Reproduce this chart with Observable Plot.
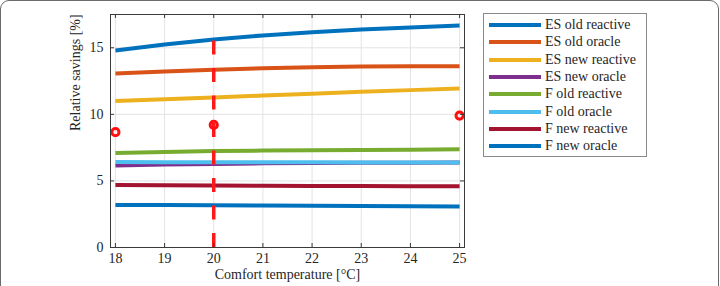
<!DOCTYPE html>
<html>
<head>
<meta charset="utf-8">
<script src="https://cdn.jsdelivr.net/npm/d3@7"></script>
<script src="https://cdn.jsdelivr.net/npm/@observablehq/plot@0.6"></script>
<style>
  html, body { margin: 0; padding: 0; background: #fff; }
  #wrap { position: relative; width: 720px; height: 286px; overflow: hidden; font-family: "Liberation Serif", serif; }
  #frame { position: absolute; left: 0; top: 0; width: 719px; height: 300px; border: 1.5px solid #6a6a6a; border-radius: 9px; box-sizing: border-box; }
  #chart { position: absolute; left: 0; top: 0; }
  #chart svg text { font-family: "Liberation Serif", serif; }
  #legend { position: absolute; left: 483px; top: 13px; width: 164px; height: 144px; border: 1px solid #8a8a8a; box-sizing: border-box; background: #fff; }
  .row { position: absolute; left: 0; height: 17px; display: flex; align-items: center; font-size: 14px; color: #262626; white-space: nowrap; }
  .swatch { width: 52px; height: 4px; margin-left: 5px; margin-right: 4px; }
</style>
</head>
<body>
<div id="wrap">
  <div id="frame"></div>
  <div id="chart"></div>
  <div id="legend"></div>
</div>
<script>
// Comfort temperature setpoints (°C)
const temps = [18, 19, 20, 21, 22, 23, 24, 25];

// Series names and colours (MATLAB default order)
const names = ["ES old reactive", "ES old oracle", "ES new reactive", "ES new oracle",
               "F old reactive", "F old oracle", "F new reactive", "F new oracle"];
const colors = ["#0072BD", "#D95319", "#EDB120", "#7E2F8E",
                "#77AC30", "#4DBEEE", "#A2142F", "#0072BD"];

// Relative savings [%] for each series at each temperature
const esOldReactive = [14.8, 15.25, 15.63, 15.93, 16.17, 16.37, 16.53, 16.67];
const esOldOracle   = [13.07, 13.22, 13.35, 13.46, 13.54, 13.59, 13.61, 13.62];
const esNewReactive = [11.0, 11.13, 11.27, 11.41, 11.55, 11.69, 11.82, 11.95];
const esNewOracle   = [6.15, 6.23, 6.28, 6.32, 6.35, 6.36, 6.37, 6.38];
const fOldReactive  = [7.1, 7.18, 7.24, 7.28, 7.31, 7.33, 7.35, 7.37];
const fOldOracle    = [6.42, 6.41, 6.41, 6.4, 6.4, 6.39, 6.38, 6.38];
const fNewReactive  = [4.7, 4.68, 4.66, 4.64, 4.62, 4.61, 4.6, 4.6];
const fNewOracle    = [3.2, 3.19, 3.18, 3.16, 3.14, 3.12, 3.1, 3.08];
const series = [esOldReactive, esOldOracle, esNewReactive, esNewOracle,
                fOldReactive, fOldOracle, fNewReactive, fNewOracle];

// Highlighted operating points (red circles)
const markTemps = [18, 20, 25];
const markValues = [8.66, 9.21, 9.91];

// Reference setpoint shown by the dashed line
const refTemp = 20;

// Axis ticks
const xTicks = [18, 19, 20, 21, 22, 23, 24, 25];
const yTicks = [0, 5, 10, 15];

const rows = [];
series.forEach((vals, i) => vals.forEach((v, j) => rows.push({name: names[i], idx: i, t: temps[j], v})));
const marks = markTemps.map((t, i) => ({t, v: markValues[i]}));
const refTop = esOldReactive[temps.indexOf(refTemp)];

const W = 720, H = 286;
const mL = 110, mR = 256, mT = 14, mB = 39;
const plotW = W - mL - mR, plotH = H - mT - mB;
const tickLen = 4;
const axisColor = "#3a3a3a";
const serif = "Liberation Serif, serif";

const chart = Plot.plot({
  width: W,
  height: H,
  marginLeft: mL,
  marginRight: mR,
  marginTop: mT,
  marginBottom: mB,
  style: {fontFamily: serif, fontSize: "14px", color: "#262626", background: "transparent"},
  x: {domain: [17.9, 25.1]},
  y: {domain: [0, 17.5]},
  marks: [
    Plot.gridX(xTicks, {stroke: "#e3e3e3", strokeOpacity: 1}),
    Plot.gridY(yTicks, {stroke: "#e3e3e3", strokeOpacity: 1}),
    ...series.map((vals, i) =>
      Plot.line(rows.filter(d => d.idx === i), {x: "t", y: "v", stroke: colors[i], strokeWidth: 4, strokeLinecap: "butt"})
    ),
    Plot.ruleX([refTemp], {y1: 0, y2: refTop, stroke: "#ff1a1a", strokeWidth: 3.5, strokeDasharray: "14,13.5"}),
    Plot.dot(marks, {x: "t", y: "v", r: 3.6, stroke: "#ff1010", strokeWidth: 3, fill: "none"}),
    Plot.frame({stroke: axisColor, strokeWidth: 1}),
    // inward ticks on all four sides
    Plot.ruleX(xTicks, {stroke: axisColor, insetTop: plotH - tickLen}),
    Plot.ruleX(xTicks, {stroke: axisColor, insetBottom: plotH - tickLen}),
    Plot.ruleY(yTicks, {stroke: axisColor, insetRight: plotW - tickLen}),
    Plot.ruleY(yTicks, {stroke: axisColor, insetLeft: plotW - tickLen}),
    Plot.axisX(xTicks, {tickSize: 0, tickPadding: 6, label: null, fill: "#262626", fontSize: 14, fontFamily: serif}),
    Plot.axisY(yTicks, {tickSize: 0, tickPadding: 7, label: null, fill: "#262626", fontSize: 14, fontFamily: serif}),
    Plot.text(["Comfort temperature [°C]"], {frameAnchor: "bottom", dy: 31, fill: "#262626", fontSize: 14, fontFamily: serif}),
    Plot.text(["Relative savings [%]"], {frameAnchor: "left", dx: -35, rotate: -90, fill: "#262626", fontSize: 14, fontFamily: serif})
  ]
});
document.getElementById("chart").appendChild(chart);

// Legend
const legend = document.getElementById("legend");
names.forEach((n, i) => {
  const row = document.createElement("div");
  row.className = "row";
  row.style.top = (2.5 + i * 17.35) + "px";
  const sw = document.createElement("div");
  sw.className = "swatch";
  sw.style.background = colors[i];
  const label = document.createElement("span");
  label.textContent = n;
  row.appendChild(sw);
  row.appendChild(label);
  legend.appendChild(row);
});
</script>
</body>
</html>
